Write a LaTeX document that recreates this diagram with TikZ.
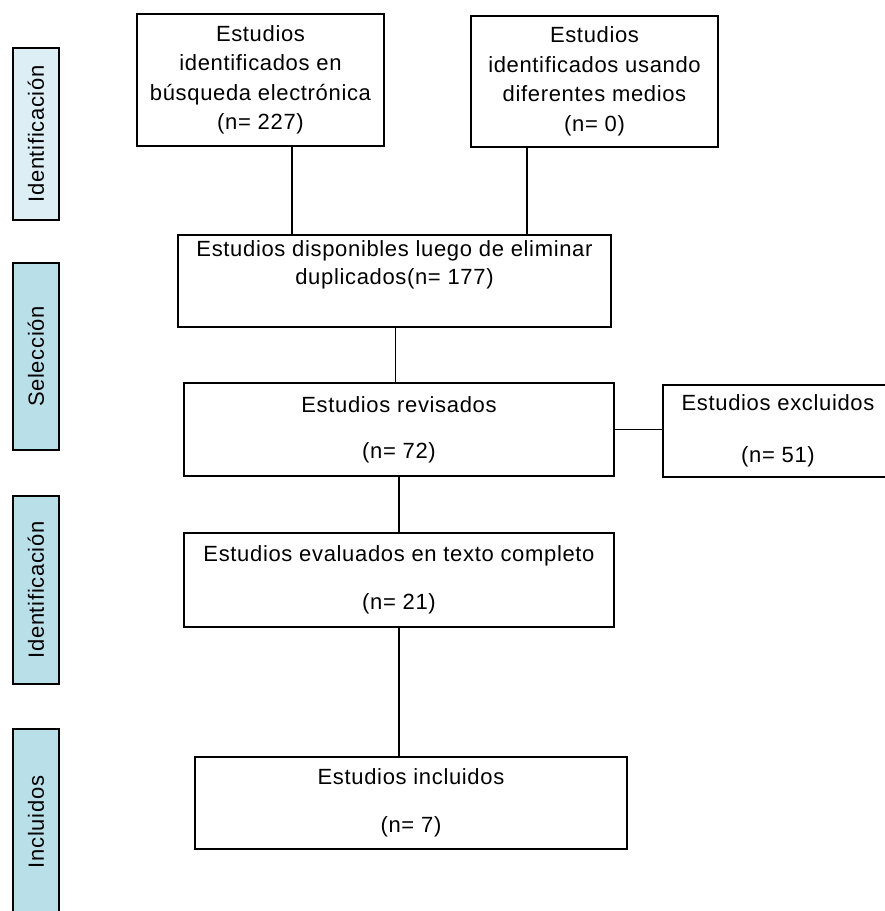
\documentclass[tikz,border=0pt]{standalone}
\usepackage{fontspec}
\setmainfont{Liberation Sans}[LetterSpace=3]
\definecolor{azulclaro}{HTML}{DDEEF5}
\definecolor{azulfase}{HTML}{B9DFE9}

\begin{document}
\begin{tikzpicture}[x=1pt, y=-1pt,
    caja/.style={draw, line width=1.2pt, fill=white, align=center, inner sep=0pt,
                 font=\fontsize{22}{28}\selectfont},
    fase/.style={draw, line width=1.2pt, fill=azulfase, rotate=90, inner sep=0pt,
                 minimum height=46pt, font=\fontsize{22}{26}\selectfont},
    enlace/.style={line width=1.3pt}]
    % Marco de la figura (pixeles)
    \useasboundingbox (0,0) rectangle (885,911);

    % Fases a la izquierda
    \node[fase, fill=azulclaro, minimum width=172pt] (fase1) at (36,134)   {Identificación};
    \node[fase, minimum width=187pt]                 (fase2) at (36,356.5) {Selección};
    \node[fase, minimum width=188pt]                 (fase3) at (36,590)   {Identificación};
    \node[fase, minimum width=186pt]                 (fase4) at (36,822)   {Incluidos};

    % Cajas del diagrama
    \node[caja, minimum width=247pt, minimum height=132pt, font=\fontsize{22}{29.5}\selectfont]
        (busq) at (260.5,80) {Estudios\\identificados en\\búsqueda electrónica\\(n= 227)};
    \node[caja, minimum width=247pt, minimum height=131pt, font=\fontsize{22}{29.5}\selectfont]
        (otros) at (594.5,81.5) {Estudios\\identificados usando\\diferentes medios\\(n= 0)};
    \node[caja, minimum width=433pt, minimum height=92pt]
        (dupl) at (394.5,281) {Estudios disponibles luego de eliminar\\duplicados(n= 177)\\ \strut};
    \node[caja, minimum width=430pt, minimum height=93pt]
        (rev) at (399,429.5) {Estudios revisados\\[18pt](n= 72)};
    \node[caja, minimum width=230pt, minimum height=92pt]
        (excl) at (778,431) {Estudios excluidos\\[24pt](n= 51)};
    \node[caja, minimum width=430pt, minimum height=94pt]
        (eval) at (399,580) {Estudios evaluados en texto completo\\[20pt](n= 21)};
    \node[caja, minimum width=432pt, minimum height=92pt]
        (incl) at (411,803) {Estudios incluidos\\[20pt](n= 7)};

    % Conectores
    \draw[enlace] ([xshift=31.5pt]busq.south) -- ([xshift=31.5pt]busq.south |- dupl.north);
    \draw[enlace] ([xshift=-67.5pt]otros.south) -- ([xshift=-67.5pt]otros.south |- dupl.north);
    \draw[enlace] ([xshift=1pt]dupl.south) -- ([xshift=1pt]dupl.south |- rev.north);
    \draw[enlace] (rev.east) -- (rev.east -| excl.west);
    \draw[enlace] (rev.south) -- (eval.north);
    \draw[enlace] (eval.south) -- (eval.south |- incl.north);
\end{tikzpicture}
\end{document}
